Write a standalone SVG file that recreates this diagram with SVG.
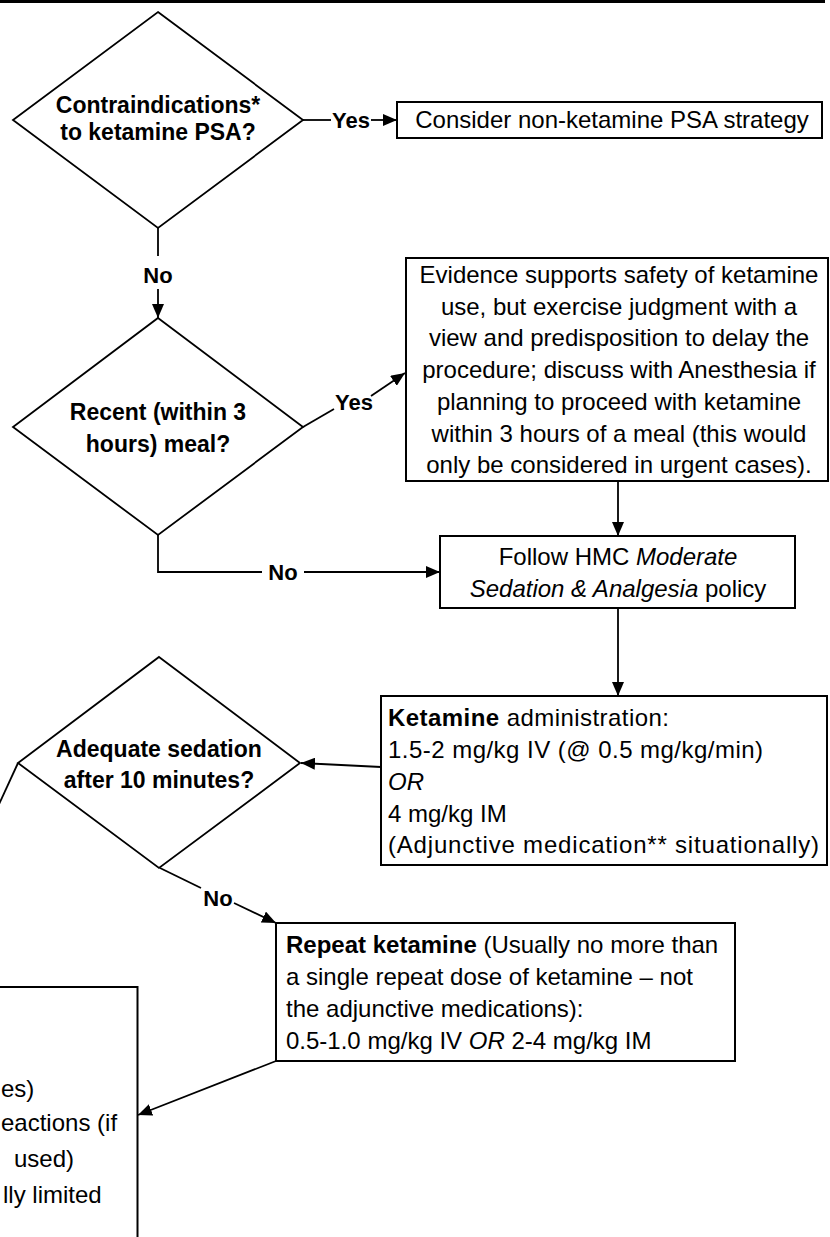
<svg xmlns="http://www.w3.org/2000/svg" width="830" height="1237" viewBox="0 0 830 1237">
<style>
.box{fill:#fff;stroke:#000;stroke-width:2}
.dia{fill:#fff;stroke:#000;stroke-width:1.8}
.ln{fill:none;stroke:#000;stroke-width:1.8}
.t{font-family:"Liberation Sans",Arial,sans-serif;font-size:24px;fill:#000}
.c{text-anchor:middle}
.bt{font-family:"Liberation Sans",Arial,sans-serif;font-size:23px;font-weight:bold;fill:#000;text-anchor:middle}
.lbl{font-family:"Liberation Sans",Arial,sans-serif;font-size:22px;font-weight:bold;fill:#000;text-anchor:middle}
.b{font-weight:bold}
.i{font-style:italic}
</style>
<defs>
<marker id="arr" markerWidth="14" markerHeight="12" refX="14" refY="6" orient="auto" markerUnits="userSpaceOnUse">
<path d="M0,0 L14,6 L0,12 z" fill="#000"/>
</marker>
</defs>
<rect x="0" y="0" width="825" height="3" fill="#000"/>

<g id="connectors">
<line class="ln" x1="302" y1="120" x2="331" y2="120"/>
<line class="ln" x1="371" y1="120" x2="397" y2="120" marker-end="url(#arr)"/>
<text class="lbl" x="351" y="128">Yes</text>

<line class="ln" x1="158" y1="228" x2="158" y2="256"/>
<line class="ln" x1="158" y1="289" x2="158" y2="318" marker-end="url(#arr)"/>
<text class="lbl" x="158" y="283">No</text>

<line class="ln" x1="303" y1="427" x2="334" y2="409"/>
<line class="ln" x1="371" y1="396" x2="405" y2="373" marker-end="url(#arr)"/>
<text class="lbl" x="354" y="410">Yes</text>

<line class="ln" x1="618" y1="481" x2="618" y2="536" marker-end="url(#arr)"/>

<path class="ln" d="M158,535 V572 H262"/>
<line class="ln" x1="304" y1="572" x2="440" y2="572" marker-end="url(#arr)"/>
<text class="lbl" x="283" y="580">No</text>

<line class="ln" x1="618" y1="608" x2="618" y2="696" marker-end="url(#arr)"/>

<line class="ln" x1="381" y1="767" x2="301" y2="763" marker-end="url(#arr)"/>

<line class="ln" x1="18" y1="763" x2="-5" y2="813"/>

<line class="ln" x1="160" y1="868" x2="201" y2="888"/>
<line class="ln" x1="234" y1="903" x2="276" y2="923" marker-end="url(#arr)"/>
<text class="lbl" x="218" y="906">No</text>

<line class="ln" x1="276" y1="1061" x2="138" y2="1115" marker-end="url(#arr)"/>
</g>

<g id="contraindications">
<polygon class="dia" points="158,12 303,120 158,228 13,120"/>
<text class="bt" x="158" y="113">Contraindications*</text>
<text class="bt" x="158" y="140">to ketamine PSA?</text>
</g>

<g id="non-ketamine">
<rect class="box" x="397" y="102" width="425" height="36"/>
<text class="t c" x="612" y="128">Consider non-ketamine PSA strategy</text>
</g>

<g id="recent-meal">
<polygon class="dia" points="158,318 303,427 158,535 13,427"/>
<text class="bt" x="158" y="420">Recent (within 3</text>
<text class="bt" x="158" y="452">hours) meal?</text>
</g>

<g id="evidence">
<rect class="box" x="406" y="258" width="422" height="223"/>
<text class="t c" x="619" y="283">Evidence supports safety of ketamine</text>
<text class="t c" x="619" y="315">use, but exercise judgment with a</text>
<text class="t c" x="619" y="346">view and predisposition to delay the</text>
<text class="t c" x="619" y="378">procedure; discuss with Anesthesia if</text>
<text class="t c" x="619" y="410">planning to proceed with ketamine</text>
<text class="t c" x="619" y="442">within 3 hours of a meal (this would</text>
<text class="t c" x="619" y="473">only be considered in urgent cases).</text>
</g>

<g id="follow-hmc">
<rect class="box" x="440" y="536" width="355" height="72"/>
<text class="t c" x="618" y="565">Follow HMC <tspan class="i">Moderate</tspan></text>
<text class="t c" x="618" y="597"><tspan class="i">Sedation &amp; Analgesia</tspan> policy</text>
</g>

<g id="ketamine-admin">
<rect class="box" x="381" y="696" width="446" height="169"/>
<text class="t" x="388" y="726" textLength="281"><tspan class="b">Ketamine</tspan> administration:</text>
<text class="t" x="388" y="758" textLength="375">1.5-2 mg/kg IV (@ 0.5 mg/kg/min)</text>
<text class="t" x="388" y="790"><tspan class="i">OR</tspan></text>
<text class="t" x="388" y="822">4 mg/kg IM</text>
<text class="t" x="388" y="853" textLength="431">(Adjunctive medication** situationally)</text>
</g>

<g id="adequate-sedation">
<polygon class="dia" points="159,657 300,763 159,868 18,763"/>
<text class="bt" x="159" y="757">Adequate sedation</text>
<text class="bt" x="159" y="788">after 10 minutes?</text>
</g>

<g id="repeat-ketamine">
<rect class="box" x="276" y="923" width="459" height="138"/>
<text class="t" x="286" y="953"><tspan class="b">Repeat ketamine</tspan> (Usually no more than</text>
<text class="t" x="286" y="985">a single repeat dose of ketamine – not</text>
<text class="t" x="286" y="1017">the adjunctive medications):</text>
<text class="t" x="286" y="1049">0.5-1.0 mg/kg IV <tspan class="i">OR</tspan> 2-4 mg/kg IM</text>
</g>

<g id="monitoring">
<rect class="box" x="-300" y="987" width="437.5" height="400"/>
<text class="t" x="1" y="1097">es)</text>
<text class="t" x="1" y="1131">eactions (if</text>
<text class="t" x="14" y="1167">used)</text>
<text class="t" x="3" y="1203">lly limited</text>
</g>
</svg>
